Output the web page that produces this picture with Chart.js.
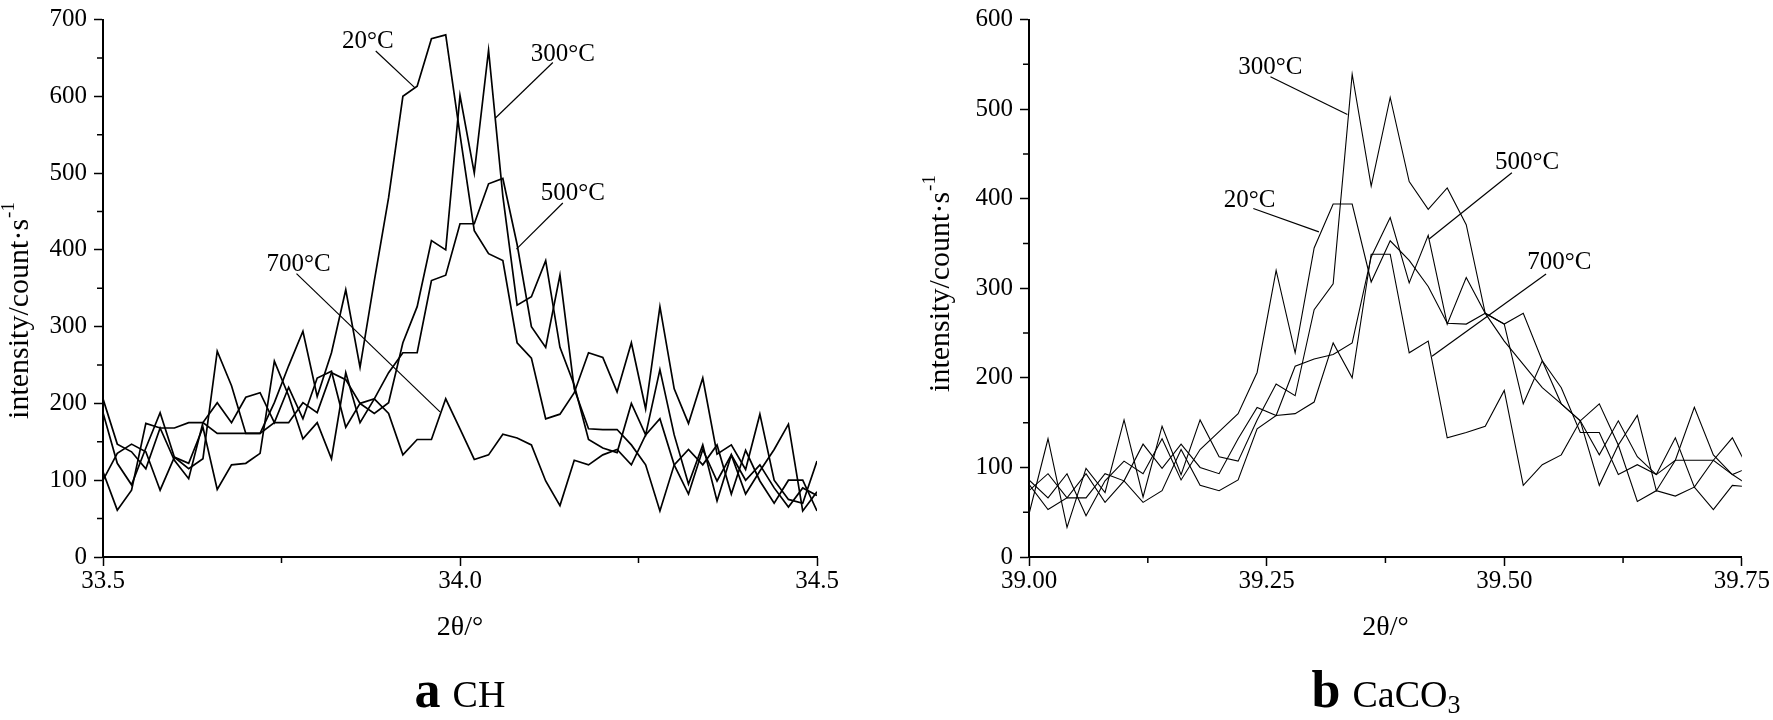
<!DOCTYPE html>
<html>
<head>
<meta charset="utf-8">
<title>XRD peaks CH / CaCO3</title>
<script src="https://cdn.jsdelivr.net/npm/chart.js@4.4.1/dist/chart.umd.min.js"></script>
<style>
  html, body { margin: 0; padding: 0; background: #fff; }
  #page { position: relative; width: 1773px; height: 720px; background: #fff; overflow: hidden;
          font-family: "Liberation Serif", "Times New Roman", serif; color: #000; }
  canvas { position: absolute; top: 0; }
  #chChart { left: 0; }
  #ccChart { left: 900px; }
  .caption { position: absolute; top: 660px; height: 60px; line-height: 60px; font-size: 38px;
             white-space: nowrap; transform: translateX(-50%); }
  .caption b { font-size: 52px; margin-right: 12px; }
  .caption sub { font-size: 26px; vertical-align: -6px; line-height: 0; }
</style>
</head>
<body>
<div id="page">
  <canvas id="chChart" width="900" height="720"></canvas>
  <canvas id="ccChart" width="873" height="720"></canvas>
  <div class="caption" style="left:460px"><b>a</b>CH</div>
  <div class="caption" style="left:1386px"><b>b</b>CaCO<sub>3</sub></div>
</div>
<script>
// ---- panel a: CH, 2theta 33.5 - 34.5 ----
const chTheta = [33.50, 33.52, 33.54, 33.56, 33.58, 33.60, 33.62, 33.64, 33.66, 33.68,
                 33.70, 33.72, 33.74, 33.76, 33.78, 33.80, 33.82, 33.84, 33.86, 33.88,
                 33.90, 33.92, 33.94, 33.96, 33.98, 34.00, 34.02, 34.04, 34.06, 34.08,
                 34.10, 34.12, 34.14, 34.16, 34.18, 34.20, 34.22, 34.24, 34.26, 34.28,
                 34.30, 34.32, 34.34, 34.36, 34.38, 34.40, 34.42, 34.44, 34.46, 34.48, 34.50];
const ch20 = [188, 122, 94, 142, 188, 130, 115, 128, 268, 223, 161, 161, 201, 249, 294, 209, 266, 348, 247, 360,
              468, 600, 613, 675, 680, 550, 425, 395, 386, 279, 259, 180, 186, 214, 266, 260, 215, 279, 193, 326,
              219, 174, 233, 134, 146, 114, 186, 100, 75, 70, 125];
const ch300 = [206, 147, 137, 115, 168, 126, 102, 175, 201, 175, 208, 214, 175, 221, 180, 233, 242, 169, 200, 187,
               201, 279, 326, 412, 400, 601, 500, 660, 470, 328, 339, 386, 273, 224, 153, 142, 136, 200, 159, 244,
               159, 95, 146, 73, 133, 82, 112, 140, 173, 60, 85];
const ch500 = [111, 61, 87, 174, 168, 168, 175, 175, 161, 161, 161, 161, 175, 175, 201, 188, 240, 231, 200, 206,
               240, 266, 266, 360, 367, 434, 434, 486, 493, 407, 300, 273, 367, 219, 167, 166, 166, 146, 120, 60,
               120, 140, 120, 146, 82, 139, 99, 70, 100, 100, 60];
const ch700 = [100, 135, 147, 137, 87, 130, 122, 169, 88, 120, 122, 135, 255, 210, 154, 175, 128, 240, 175, 206,
               187, 133, 153, 153, 206, 167, 127, 133, 160, 155, 146, 99, 67, 126, 120, 133, 140, 120, 159, 180,
               120, 82, 140, 99, 133, 100, 120, 90, 65, 90, 80];
const chXTicks = [33.5, 34.0, 34.5];
const chXMinor = [33.75, 34.25];
const chYTicks = [0, 100, 200, 300, 400, 500, 600, 700];
const chYMinor = [50, 150, 250, 350, 450, 550, 650];

// ---- panel b: CaCO3, 2theta 39.00 - 39.75 ----
const ccTheta = [39.00, 39.02, 39.04, 39.06, 39.08, 39.10, 39.12, 39.14, 39.16, 39.18,
                 39.20, 39.22, 39.24, 39.26, 39.28, 39.30, 39.32, 39.34, 39.36, 39.38,
                 39.40, 39.42, 39.44, 39.46, 39.48, 39.50, 39.52, 39.54, 39.56, 39.58,
                 39.60, 39.62, 39.64, 39.66, 39.68, 39.70, 39.72, 39.74, 39.76];
const cc20 = [86, 66, 93, 46, 85, 107, 93, 132, 86, 120, 140, 160, 206, 320, 228, 345, 394, 394, 307, 353,
              331, 302, 261, 260, 272, 241, 215, 189, 171, 152, 171, 125, 158, 74, 108, 167, 114, 92, 101];
const cc300 = [48, 132, 33, 99, 72, 153, 67, 146, 92, 153, 112, 107, 153, 193, 180, 276, 305, 539, 414, 513,
               419, 388, 412, 371, 272, 260, 272, 219, 189, 139, 139, 92, 103, 92, 133, 78, 108, 133, 92];
const cc500 = [74, 93, 66, 93, 61, 85, 126, 99, 126, 100, 93, 132, 167, 158, 213, 221, 226, 239, 335, 379,
               306, 359, 260, 312, 272, 260, 171, 219, 171, 152, 114, 152, 112, 92, 108, 108, 108, 92, 78];
const cc700 = [81, 53, 66, 66, 93, 85, 61, 74, 120, 80, 74, 86, 143, 158, 160, 173, 239, 200, 338, 338,
               228, 241, 133, 139, 146, 186, 80, 103, 114, 152, 80, 125, 62, 74, 68, 78, 53, 80, 78];
const ccXTicks = [39.00, 39.25, 39.50, 39.75];
const ccXMinor = [39.125, 39.375, 39.625];
const ccYTicks = [0, 100, 200, 300, 400, 500, 600];
const ccYMinor = [50, 150, 250, 350, 450, 550];

// curve labels with leader lines (data coordinates)
const chLabels = [
  { text: '20°C',  at: [33.871, 671], from: [33.882, 659], to: [33.937, 611] },
  { text: '300°C', at: [34.144, 655], from: [34.130, 644], to: [34.050, 572] },
  { text: '500°C', at: [34.158, 474], from: [34.144, 461], to: [34.079, 401] },
  { text: '700°C', at: [33.774, 381], from: [33.771, 369], to: [33.972, 189] }
];
const ccLabels = [
  { text: '300°C', at: [39.254, 546], from: [39.254, 536], to: [39.335, 494] },
  { text: '20°C',  at: [39.232, 398], from: [39.236, 389], to: [39.305, 363] },
  { text: '500°C', at: [39.524, 441], from: [39.508, 429], to: [39.421, 355] },
  { text: '700°C', at: [39.558, 329], from: [39.544, 316], to: [39.424, 224] }
];

const FONT = 'Liberation Serif';

const minorTicks = {
  id: 'minorTicks',
  afterDraw(chart, args, opts) {
    const ctx = chart.ctx, xs = chart.scales.x, ys = chart.scales.y, a = chart.chartArea;
    ctx.save();
    ctx.strokeStyle = '#000';
    ctx.lineWidth = opts.width;
    ctx.beginPath();
    opts.x.forEach(v => {
      const px = xs.getPixelForValue(v);
      ctx.moveTo(px, a.bottom);
      ctx.lineTo(px, a.bottom + opts.len);
    });
    opts.y.forEach(v => {
      const py = ys.getPixelForValue(v);
      ctx.moveTo(a.left, py);
      ctx.lineTo(a.left - opts.len, py);
    });
    ctx.stroke();
    ctx.restore();
  }
};

const leaders = {
  id: 'leaders',
  afterDatasetsDraw(chart, args, opts) {
    const ctx = chart.ctx, xs = chart.scales.x, ys = chart.scales.y;
    ctx.save();
    ctx.strokeStyle = '#000';
    ctx.fillStyle = '#000';
    ctx.lineWidth = opts.lineWidth;
    ctx.font = opts.size + 'px "' + FONT + '"';
    ctx.textAlign = 'center';
    ctx.textBaseline = 'middle';
    opts.items.forEach(it => {
      ctx.beginPath();
      ctx.moveTo(xs.getPixelForValue(it.from[0]), ys.getPixelForValue(it.from[1]));
      ctx.lineTo(xs.getPixelForValue(it.to[0]), ys.getPixelForValue(it.to[1]));
      ctx.stroke();
      ctx.fillText(it.text, xs.getPixelForValue(it.at[0]), ys.getPixelForValue(it.at[1]));
    });
    ctx.restore();
  }
};

// rotated y title with a real superscript
const yTitle = {
  id: 'yTitle',
  afterDraw(chart, args, opts) {
    const ctx = chart.ctx, a = chart.chartArea;
    ctx.save();
    ctx.translate(a.left - opts.offsetX, opts.centerY);
    ctx.rotate(-Math.PI / 2);
    ctx.fillStyle = '#000';
    ctx.textAlign = 'left';
    ctx.textBaseline = 'middle';
    ctx.font = opts.size + 'px "' + FONT + '"';
    const mainW = ctx.measureText(opts.text).width;
    ctx.font = opts.supSize + 'px "' + FONT + '"';
    const supW = ctx.measureText(opts.sup).width;
    const start = -(mainW + supW) / 2;
    ctx.font = opts.size + 'px "' + FONT + '"';
    ctx.fillText(opts.text, start, 0);
    ctx.font = opts.supSize + 'px "' + FONT + '"';
    ctx.fillText(opts.sup, start + mainW + 1, -opts.size * 0.38);
    ctx.restore();
  }
};

function buildChart(canvasId, setup) {
  const datasets = setup.series.map(values => ({
    data: setup.theta.map((t, i) => ({ x: t, y: values[i] })),
    borderColor: '#000',
    borderWidth: setup.lineWidth,
    pointRadius: 0,
    tension: 0,
    fill: false
  }));

  const axisGrid = { drawOnChartArea: false, drawTicks: true, tickLength: 9, tickWidth: 1.5, tickColor: '#000' };
  const axisBorder = { display: true, color: '#000', width: 2 };

  return new Chart(document.getElementById(canvasId), {
    type: 'line',
    data: { datasets },
    options: {
      responsive: false,
      animation: false,
      devicePixelRatio: 1,
      layout: { padding: { left: 0, top: 13, right: setup.padRight, bottom: 0 } },
      plugins: {
        legend: { display: false },
        tooltip: { enabled: false },
        minorTicks: { x: setup.xMinor, y: setup.yMinor, len: 6, width: 1.5 },
        leaders: { items: setup.labels, size: 25, lineWidth: 1.2 },
        yTitle: { text: 'intensity/count·s', sup: '-1', size: 30, supSize: 19,
                  offsetX: setup.yTitleOffset, centerY: setup.yTitleY }
      },
      scales: {
        x: {
          type: 'linear',
          min: setup.xMin,
          max: setup.xMax,
          afterBuildTicks: s => { s.ticks = setup.xTicks.map(v => ({ value: v })); },
          afterFit: s => { s.height = 163; },
          ticks: {
            autoSkip: false, maxRotation: 0, color: '#000', padding: 3,
            font: { family: FONT, size: 25, lineHeight: 1 },
            callback: v => Number(v).toFixed(setup.xDigits)
          },
          grid: axisGrid,
          border: axisBorder,
          title: { display: true, text: '2θ/°', color: '#000',
                   font: { family: FONT, size: 28 }, padding: { top: 0, bottom: 76 } }
        },
        y: {
          type: 'linear',
          min: 0,
          max: setup.yMax,
          afterBuildTicks: s => { s.ticks = setup.yTicks.map(v => ({ value: v })); },
          afterFit: s => { s.width = setup.yAxisWidth; },
          ticks: {
            color: '#000', padding: 7,
            font: { family: FONT, size: 25, lineHeight: 1 },
            callback: v => String(v)
          },
          grid: axisGrid,
          border: axisBorder
        }
      }
    },
    plugins: [minorTicks, leaders, yTitle]
  });
}

buildChart('chChart', {
  theta: chTheta,
  series: [ch20, ch300, ch500, ch700],
  lineWidth: 1.7,
  xMin: 33.5, xMax: 34.5, xDigits: 1,
  xTicks: chXTicks, xMinor: chXMinor,
  yMax: 700, yTicks: chYTicks, yMinor: chYMinor,
  labels: chLabels,
  padRight: 83, yAxisWidth: 103,
  yTitleOffset: 83, yTitleY: 311
});

buildChart('ccChart', {
  theta: ccTheta,
  series: [cc20, cc300, cc500, cc700],
  lineWidth: 1.1,
  xMin: 39.0, xMax: 39.75, xDigits: 2,
  xTicks: ccXTicks, xMinor: ccXMinor,
  yMax: 600, yTicks: ccYTicks, yMinor: ccYMinor,
  labels: ccLabels,
  padRight: 30, yAxisWidth: 129,
  yTitleOffset: 88, yTitleY: 284
});
</script>
</body>
</html>
